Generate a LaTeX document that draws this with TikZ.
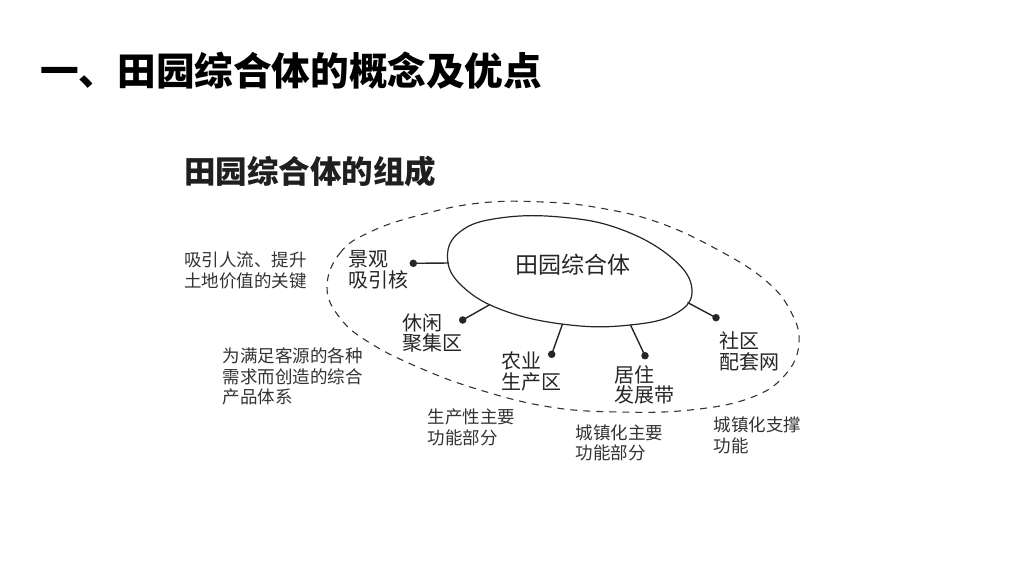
\documentclass[tikz,border=0pt]{standalone}
\usepackage{fontspec}
\setmainfont{Noto Sans CJK SC}
\begin{document}
\begin{tikzpicture}[x=1pt,y=-1pt,
  titlef/.style={font=\fontsize{38.6}{40}\selectfont\bfseries, text=black, anchor=west, inner sep=0pt},
  subf/.style={font=\fontsize{31.5}{34}\selectfont\bfseries, text=black!88, anchor=west, inner sep=0pt},
  corelbl/.style={font=\fontsize{23}{25}\selectfont, text=black!85, inner sep=0pt},
  lbl/.style={font=\fontsize{20}{20.5}\selectfont, text=black!85, align=left, anchor=west, inner sep=0pt},
  note/.style={font=\fontsize{17.5}{20.5}\selectfont, text=black!80, align=left, anchor=west, inner sep=0pt},
  dot/.style={circle, fill=black!85, inner sep=0pt, minimum size=7.5pt},
  conn/.style={draw=black!85, line width=1.4pt},
  ring/.style={draw=black!85, line width=1.2pt},
  dashring/.style={draw=black!80, line width=1.1pt, dash pattern=on 7pt off 6pt}]
\useasboundingbox (0,0) rectangle (1024,576);
\fill[white] (0,0) rectangle (1024,576);

% titles
\node[titlef] (title) at (40,71) {一、田园综合体的概念及优点};
\node[subf] (sub) at (184,171.5) {田园综合体的组成};

% outer dashed ring
\draw[dashring] plot[smooth cycle, tension=0.7] coordinates {
  (327,287) (340,253) (370,232) (420,215) (480,203) (543,202) (600,208)
  (660,223) (720,251) (765,280) (790,310) (799,343) (785,375) (750,398)
  (690,410) (620,412) (550,407) (480,390) (420,368) (370,343) (340,318)};

% inner ring
\draw[ring] plot[smooth cycle, tension=0.7] coordinates {
  (447.5,257) (462,286) (505,311) (570,325) (630,325) (675,314)
  (692,290) (672,258) (620,229) (560,217) (500,218) (461,231)};
\node[corelbl] (core) at (572.5,265) {田园综合体};

% attachment points on the inner ring
\coordinate (a1) at (449,263);
\coordinate (a2) at (490,304.5);
\coordinate (a3) at (562.5,324);
\coordinate (a4) at (630.5,325);
\coordinate (a5) at (687.5,302.5);

% dots
\node[dot] (d1) at (413.3,263.3) {};
\node[dot] (d2) at (462.7,320) {};
\node[dot] (d3) at (551.7,354.3) {};
\node[dot] (d4) at (645,355.7) {};
\node[dot] (d5) at (716,317.7) {};

\draw[conn] (d1.center) -- (a1);
\draw[conn] (d2.center) -- (a2);
\draw[conn] (d3.center) -- (a3);
\draw[conn] (d4.center) -- (a4);
\draw[conn] (d5.center) -- (a5);

% component labels
\node[lbl] (l1) at (348.5,270) {景观\\吸引核};
\node[lbl] (l2) at (402.5,333.3) {休闲\\聚集区};
\node[lbl] (l3) at (501,371.7) {农业\\生产区};
\node[lbl] (l4) at (614.3,385) {居住\\发展带};
\node[lbl] (l5) at (719.3,351.2) {社区\\配套网};

% notes
\node[note] (n1) at (184,270.3) {吸引人流、提升\\土地价值的关键};
\node[note] (n2) at (222.5,376.7) {为满足客源的各种\\需求而创造的综合\\产品体系};
\node[note] (n3) at (427.5,427.3) {生产性主要\\功能部分};
\node[note] (n4) at (575.3,443) {城镇化主要\\功能部分};
\node[note] (n5) at (713.3,435.5) {城镇化支撑\\功能};
\end{tikzpicture}
\end{document}
